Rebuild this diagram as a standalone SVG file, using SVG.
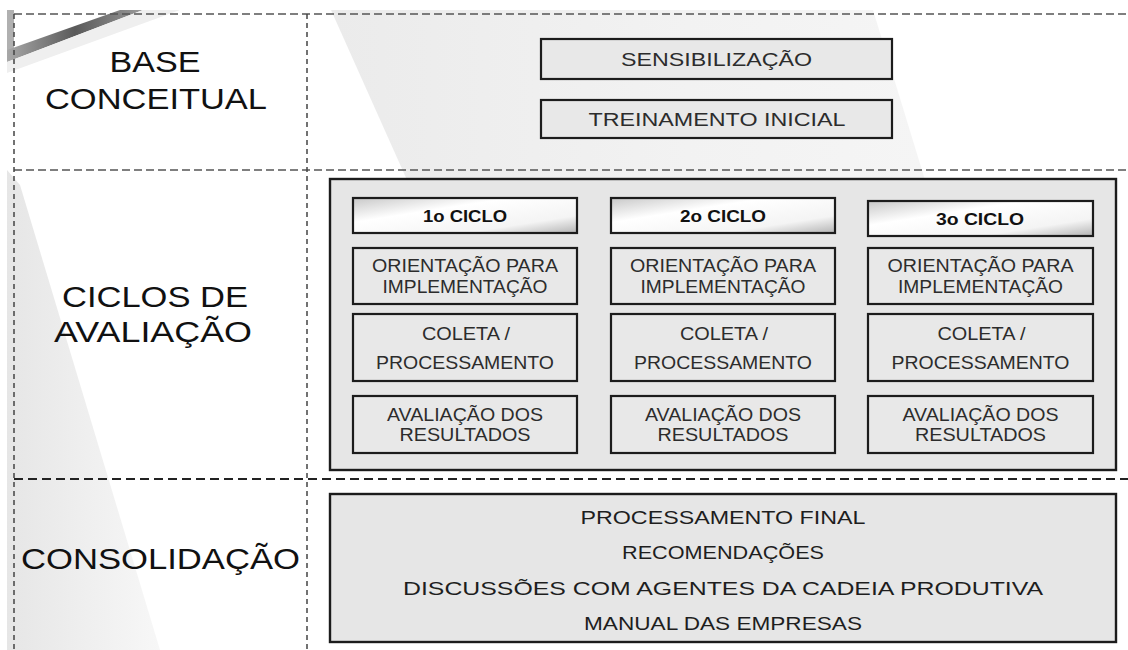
<svg xmlns="http://www.w3.org/2000/svg" width="1128" height="650" viewBox="0 0 1128 650">
<style>
  .lbl { font-family: "Liberation Sans", Arial, sans-serif; fill: #111; font-size: 30px; }
  .t { font-family: "Liberation Sans", Arial, sans-serif; fill: #2c2c2c; font-size: 18px; text-anchor: middle; }
  .tb { font-family: "Liberation Sans", Arial, sans-serif; fill: #111; font-size: 16px; font-weight: bold; text-anchor: middle; }
  .tc { font-family: "Liberation Sans", Arial, sans-serif; fill: #1e1e1e; font-size: 19px; text-anchor: middle; }
  .box { fill: #e8e8e8; stroke: #1c1c1c; stroke-width: 2.2; }
  .hdr { fill: url(#hdrGrad); stroke: #1c1c1c; stroke-width: 2.2; }
  .big { fill: #e6e6e6; stroke: #1c1c1c; stroke-width: 2.4; }
  .dh { stroke: #555; stroke-width: 1.6; stroke-dasharray: 8 4; fill: none; }
  .dh2 { stroke: #222; stroke-width: 2; stroke-dasharray: 9 5; fill: none; }
  .dv { stroke: #444; stroke-width: 1.5; stroke-dasharray: 5 4; fill: none; }
</style>
<defs>
  <linearGradient id="hdrGrad" x1="0" y1="0" x2="1" y2="1">
    <stop offset="0" stop-color="#c8c8c8"/>
    <stop offset="0.35" stop-color="#ffffff"/>
    <stop offset="0.75" stop-color="#f4f4f4"/>
    <stop offset="1" stop-color="#b4b4b4"/>
  </linearGradient>
  <linearGradient id="wmGrad" x1="0" y1="0" x2="1" y2="0">
    <stop offset="0" stop-color="#ebebeb"/>
    <stop offset="0.6" stop-color="#f2f2f2"/>
    <stop offset="1" stop-color="#f5f5f5"/>
  </linearGradient>
  <linearGradient id="leftGrad" x1="0" y1="0" x2="1" y2="0">
    <stop offset="0" stop-color="#e6e6e6"/>
    <stop offset="1" stop-color="#f7f7f7"/>
  </linearGradient>
  <linearGradient id="stripeGrad" x1="0" y1="0" x2="1" y2="0">
    <stop offset="0" stop-color="#a8a8a8"/>
    <stop offset="0.5" stop-color="#5a5a5a"/>
    <stop offset="1" stop-color="#9a9a9a"/>
  </linearGradient>
</defs>

<rect x="0" y="0" width="1128" height="650" fill="#ffffff"/>

<g id="watermark">
  <polygon points="331,10 873,10 925,180 407,180" fill="url(#wmGrad)"/>
  <polygon points="7,170 20,185 160,650 7,650" fill="url(#leftGrad)"/>
  <rect x="7" y="10" width="7" height="48" fill="#b0b0b0"/>
  <polygon points="7,50 120,10 143,10 7,62" fill="url(#stripeGrad)"/>
  <polygon points="7,62 143,10 180,10 7,73" fill="#efefef"/>
</g>

<g id="grid">
  <line class="dh" x1="14" y1="14" x2="1128" y2="14"/>
  <line class="dh" x1="14" y1="170" x2="1128" y2="170"/>
  <line class="dh2" x1="14" y1="479" x2="1128" y2="479"/>
  <line class="dv" x1="14" y1="14" x2="14" y2="650"/>
  <line class="dv" x1="307" y1="14" x2="307" y2="650"/>
</g>

<g id="connectors"></g>

<g id="label-base">
  <text class="lbl" x="155" y="72" text-anchor="middle" textLength="91" lengthAdjust="spacingAndGlyphs">BASE</text>
  <text class="lbl" x="156" y="109" text-anchor="middle" textLength="222" lengthAdjust="spacingAndGlyphs">CONCEITUAL</text>
</g>
<g id="label-ciclos">
  <text class="lbl" x="155" y="307" text-anchor="middle" textLength="186" lengthAdjust="spacingAndGlyphs">CICLOS DE</text>
  <text class="lbl" x="153" y="342" text-anchor="middle" textLength="198" lengthAdjust="spacingAndGlyphs">AVALIAÇÃO</text>
</g>
<g id="label-consolidacao">
  <text class="lbl" x="160.5" y="569" text-anchor="middle" textLength="279" lengthAdjust="spacingAndGlyphs">CONSOLIDAÇÃO</text>
</g>

<g id="sensibilizacao">
  <rect class="box" x="541" y="39" width="351" height="40"/>
  <text class="t" x="716.5" y="66" textLength="191" lengthAdjust="spacingAndGlyphs">SENSIBILIZAÇÃO</text>
</g>
<g id="treinamento">
  <rect class="box" x="541" y="100" width="351" height="38"/>
  <text class="t" x="717" y="126" textLength="257" lengthAdjust="spacingAndGlyphs">TREINAMENTO INICIAL</text>
</g>

<g id="ciclos-container">
  <rect class="big" x="330" y="179" width="786" height="291"/>
</g>

<g id="ciclo1">
  <rect class="hdr" x="353" y="198" width="224" height="35"/>
  <text class="tb" x="465" y="222" textLength="84" lengthAdjust="spacingAndGlyphs">1o CICLO</text>
  <rect class="box" x="353" y="248" width="224" height="56"/>
  <text class="t" x="465" y="272" textLength="186" lengthAdjust="spacingAndGlyphs">ORIENTAÇÃO PARA</text>
  <text class="t" x="465" y="293" textLength="165" lengthAdjust="spacingAndGlyphs">IMPLEMENTAÇÃO</text>
  <rect class="box" x="353" y="314" width="224" height="67"/>
  <text class="t" x="466" y="340" textLength="88" lengthAdjust="spacingAndGlyphs">COLETA /</text>
  <text class="t" x="465" y="369" textLength="178" lengthAdjust="spacingAndGlyphs">PROCESSAMENTO</text>
  <rect class="box" x="353" y="396" width="224" height="57"/>
  <text class="t" x="465" y="421" textLength="156" lengthAdjust="spacingAndGlyphs">AVALIAÇÃO DOS</text>
  <text class="t" x="465" y="441" textLength="131" lengthAdjust="spacingAndGlyphs">RESULTADOS</text>
</g>

<g id="ciclo2">
  <rect class="hdr" x="611" y="198" width="224" height="35"/>
  <text class="tb" x="723" y="222" textLength="86" lengthAdjust="spacingAndGlyphs">2o CICLO</text>
  <rect class="box" x="611" y="248" width="224" height="56"/>
  <text class="t" x="723" y="272" textLength="186" lengthAdjust="spacingAndGlyphs">ORIENTAÇÃO PARA</text>
  <text class="t" x="723" y="293" textLength="165" lengthAdjust="spacingAndGlyphs">IMPLEMENTAÇÃO</text>
  <rect class="box" x="611" y="314" width="224" height="67"/>
  <text class="t" x="724" y="340" textLength="88" lengthAdjust="spacingAndGlyphs">COLETA /</text>
  <text class="t" x="723" y="369" textLength="178" lengthAdjust="spacingAndGlyphs">PROCESSAMENTO</text>
  <rect class="box" x="611" y="396" width="224" height="57"/>
  <text class="t" x="723" y="421" textLength="156" lengthAdjust="spacingAndGlyphs">AVALIAÇÃO DOS</text>
  <text class="t" x="723" y="441" textLength="131" lengthAdjust="spacingAndGlyphs">RESULTADOS</text>
</g>

<g id="ciclo3">
  <rect class="hdr" x="868" y="201" width="225" height="35"/>
  <text class="tb" x="980" y="225" textLength="88" lengthAdjust="spacingAndGlyphs">3o CICLO</text>
  <rect class="box" x="868" y="248" width="225" height="56"/>
  <text class="t" x="980.5" y="272" textLength="186" lengthAdjust="spacingAndGlyphs">ORIENTAÇÃO PARA</text>
  <text class="t" x="980.5" y="293" textLength="165" lengthAdjust="spacingAndGlyphs">IMPLEMENTAÇÃO</text>
  <rect class="box" x="868" y="314" width="225" height="67"/>
  <text class="t" x="981.5" y="340" textLength="88" lengthAdjust="spacingAndGlyphs">COLETA /</text>
  <text class="t" x="980.5" y="369" textLength="178" lengthAdjust="spacingAndGlyphs">PROCESSAMENTO</text>
  <rect class="box" x="868" y="396" width="225" height="57"/>
  <text class="t" x="980.5" y="421" textLength="156" lengthAdjust="spacingAndGlyphs">AVALIAÇÃO DOS</text>
  <text class="t" x="980.5" y="441" textLength="131" lengthAdjust="spacingAndGlyphs">RESULTADOS</text>
</g>

<g id="consolidacao">
  <rect class="big" x="330" y="494" width="786" height="148"/>
  <text class="tc" x="723" y="524" textLength="285" lengthAdjust="spacingAndGlyphs">PROCESSAMENTO FINAL</text>
  <text class="tc" x="723" y="559" textLength="202" lengthAdjust="spacingAndGlyphs">RECOMENDAÇÕES</text>
  <text class="tc" x="723" y="595" textLength="640" lengthAdjust="spacingAndGlyphs">DISCUSSÕES COM AGENTES DA CADEIA PRODUTIVA</text>
  <text class="tc" x="723" y="630" textLength="278" lengthAdjust="spacingAndGlyphs">MANUAL DAS EMPRESAS</text>
</g>
</svg>
